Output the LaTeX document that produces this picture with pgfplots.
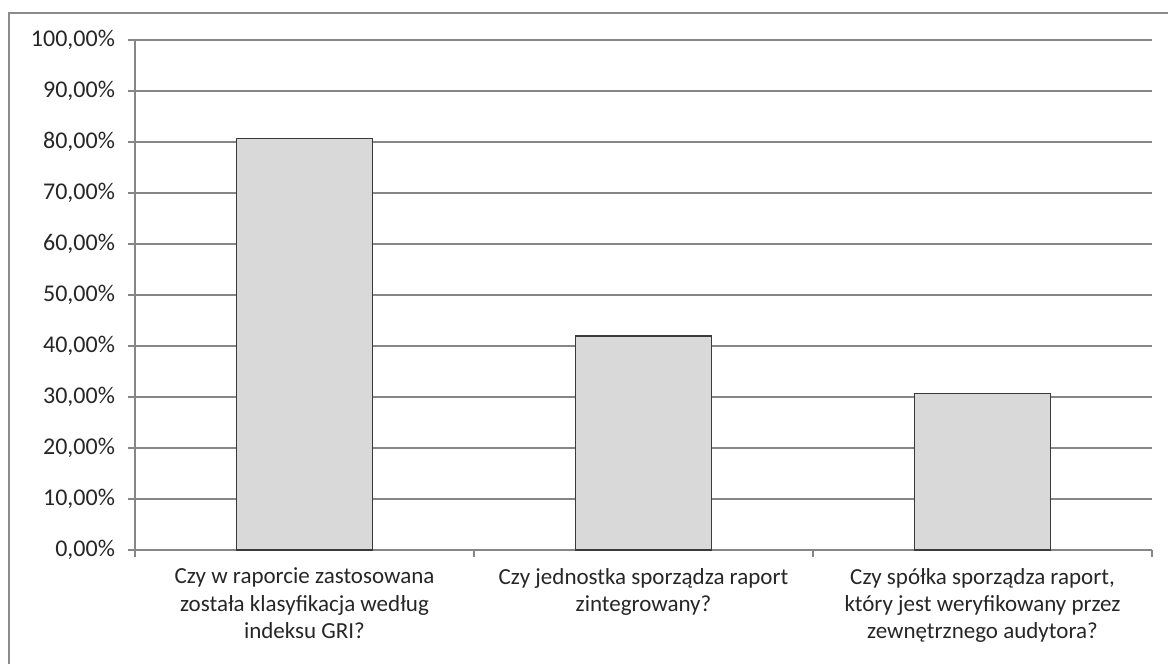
\documentclass[border=0pt]{standalone}
\usepackage{pgfplots}
\pgfplotsset{compat=1.18}
\usepackage{fontspec}
\setmainfont{Carlito}
\definecolor{gridc}{HTML}{868686}
\definecolor{barc}{HTML}{D9D9D9}
\definecolor{edgec}{HTML}{3A3A3A}
\definecolor{framec}{HTML}{8C8C8C}
\begin{document}
\begin{tikzpicture}[x=1pt,y=1pt]
\useasboundingbox (-67.5,-57) rectangle (516.5,275);
\draw[framec, line width=1pt] (-63,-70) -- (-63,268.5) -- (530,268.5);
\begin{axis}[
  at={(0,0)}, anchor=south west,
  width=508.5pt, height=255pt, scale only axis,
  xmin=-0.5, xmax=2.5, ymin=0, ymax=100,
  axis x line*=bottom, axis y line*=left,
  axis line style={gridc, line width=0.6pt},
  ytick={0,10,...,100},
  ymajorgrids, grid style={gridc, line width=0.6pt},
  tick align=outside, major tick length=3.5pt,
  ytick style={gridc, line width=0.6pt},
  xtick={-0.5,0.5,1.5,2.5}, xticklabels={},
  xtick style={gridc, line width=0.6pt},
  extra x ticks={0,1,2},
  extra x tick style={major tick length=0pt, grid=none},
  extra x tick labels={{Czy w raporcie zastosowana\\została klasyfikacja według\\indeksu GRI?},
    {Czy jednostka sporządza raport\\zintegrowany?},
    {Czy spółka sporządza raport,\\który jest weryfikowany przez\\zewnętrznego audytora?}},
  x tick label style={align=center, font=\fontsize{11.5}{13.6}\selectfont, text=black!85, anchor=north, yshift=-5.5pt},
  y tick label style={font=\fontsize{12}{14}\selectfont, text=black!85, xshift=-3pt},
  yticklabel={\pgfmathprintnumber[fixed,fixed zerofill,precision=2,use comma,assume math mode=true]{\tick}\%},
  /pgf/number format/assume math mode=true,
  clip=false,
]
\addplot[ybar, bar width=67.8pt, fill=barc, draw=edgec, line width=0.7pt]
  coordinates {(0,80.65) (1,41.94) (2,30.65)};
\end{axis}
\end{tikzpicture}
\end{document}
